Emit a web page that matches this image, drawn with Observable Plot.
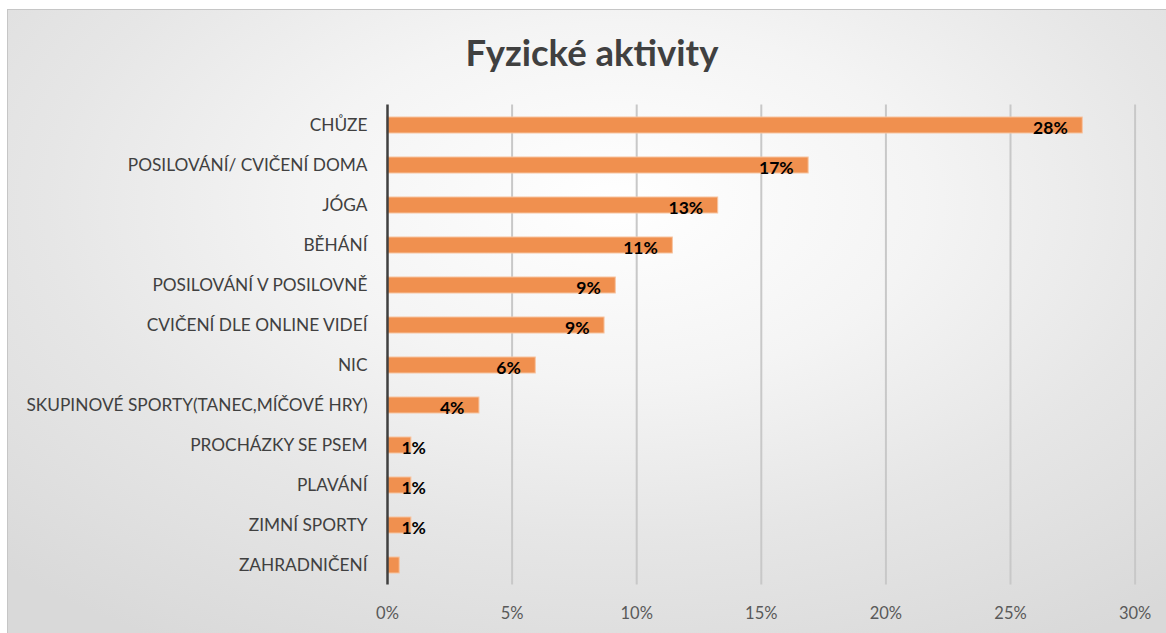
<!DOCTYPE html>
<html>
<head>
<meta charset="utf-8">
<script src="https://cdn.jsdelivr.net/npm/d3@7"></script>
<script src="https://cdn.jsdelivr.net/npm/@observablehq/plot@0.6"></script>
<style>
  html, body { margin: 0; padding: 0; width: 1166px; height: 633px; overflow: hidden; background: #ffffff; }
  #frame {
    position: absolute; left: 7px; top: 9px; width: 1170px; height: 640px;
    border: 1px solid #c6c6c6;
    background: radial-gradient(ellipse 75% 80% at 52% 30%, #ffffff 0%, #f4f4f4 35%, #e6e6e6 65%, #d9d9d9 100%);
  }
  #title {
    position: absolute; left: 7px; top: 31px; width: 1170px; text-align: center;
    font-family: Lato, "Open Sans", sans-serif; font-weight: bold; font-size: 36.5px;
    line-height: 42px; color: #404040;
  }
  #chart { position: absolute; left: 0; top: 90px; }
</style>
</head>
<body>
<div id="frame"></div>
<div id="title">Fyzické aktivity</div>
<div id="chart"></div>
<script>
const categories = [
  "CHŮZE",
  "POSILOVÁNÍ/ CVIČENÍ DOMA",
  "JÓGA",
  "BĚHÁNÍ",
  "POSILOVÁNÍ V POSILOVNĚ",
  "CVIČENÍ DLE ONLINE VIDEÍ",
  "NIC",
  "SKUPINOVÉ SPORTY(TANEC,MÍČOVÉ HRY)",
  "PROCHÁZKY SE PSEM",
  "PLAVÁNÍ",
  "ZIMNÍ SPORTY",
  "ZAHRADNIČENÍ"
];
const values = [27.9, 16.9, 13.27, 11.45, 9.16, 8.71, 5.95, 3.69, 0.96, 0.96, 0.96, 0.49];
const valueLabels = ["28%", "17%", "13%", "11%", "9%", "9%", "6%", "4%", "1%", "1%", "1%", ""];
const xTicks = [0, 5, 10, 15, 20, 25, 30];

const data = categories.map((c, i) => ({category: c, value: values[i], label: valueLabels[i]}));
const bigLabels = data.filter(d => d.label && d.value >= 2);
const smallLabels = data.filter(d => d.label && d.value < 2);

const font = "Lato, 'Open Sans', sans-serif";

const chart = Plot.plot({
  width: 1166,
  height: 543,
  marginLeft: 387,
  marginRight: 31.4,
  marginTop: 14.5,
  marginBottom: 48.5,
  style: {background: "transparent", fontFamily: font, fontSize: "17px", color: "#404040", overflow: "visible"},
  x: {domain: [0, 30], label: null},
  y: {domain: categories, paddingInner: 0.6, paddingOuter: 0.3, label: null},
  marks: [
    Plot.gridX(xTicks.filter(d => d > 0), {stroke: "#c8c8c8", strokeWidth: 2, strokeOpacity: 1}),
    Plot.barX(data, {x: "value", y: "category", fill: "#F0904F", stroke: "#f7c4a0", strokeWidth: 1}),
    Plot.ruleX([0], {stroke: "#404040", strokeWidth: 2.5}),
    Plot.text(bigLabels, {x: "value", y: "category", text: "label", textAnchor: "end", dx: -15, dy: 3,
      fontWeight: "bold", fill: "#000000", fontSize: 17.5}),
    Plot.text(smallLabels, {x: "value", y: "category", text: "label", textAnchor: "start", dx: -10, dy: 3,
      fontWeight: "bold", fill: "#000000", fontSize: 17.5}),
    Plot.axisX({ticks: xTicks, tickFormat: d => d + "%", tickSize: 0, tickPadding: 22, fill: "#595959", fontSize: 16.5, label: null}),
    Plot.axisY({tickSize: 0, tickPadding: 20, fill: "#404040", fontSize: 17.3, label: null})
  ]
});
document.getElementById("chart").appendChild(chart);
</script>
</body>
</html>
